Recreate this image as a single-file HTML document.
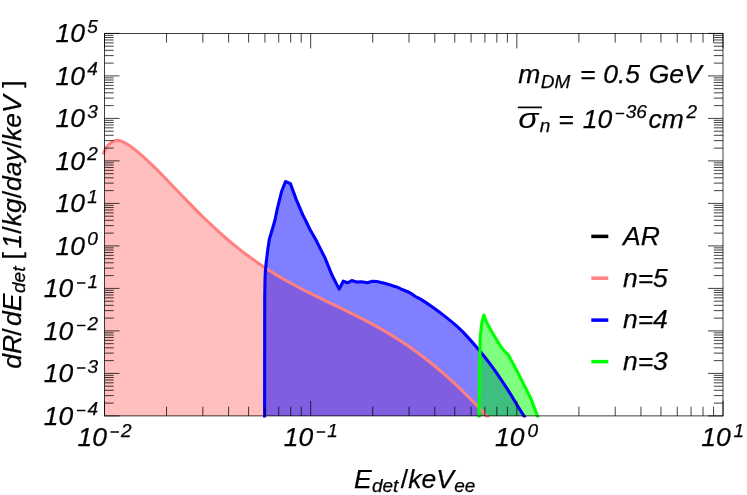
<!DOCTYPE html>
<html><head><meta charset="utf-8"><title>chart</title>
<style>html,body{margin:0;padding:0;background:#fff}svg{display:block}</style></head>
<body>
<svg width="747" height="495" viewBox="0 0 747 495">
<rect width="747" height="495" fill="#fff"/>
<defs><clipPath id="c"><rect x="101.0" y="33.4" width="622.0" height="384.1"/></clipPath></defs>
<defs><clipPath id="f"><rect x="104.5" y="33.4" width="618.5" height="382.5"/></clipPath></defs>
<g clip-path="url(#f)">
<path d="M103.2,154.3 L104.5,151.2 C105.1,149.9 105.8,148.2 106.9,146.8 C108.0,145.4 109.3,143.9 110.9,142.8 C112.5,141.7 114.8,140.7 116.6,140.4 C118.3,140.1 119.2,140.3 121.4,141.2 C123.6,142.1 126.6,143.6 130.0,146.0 C133.4,148.4 138.0,152.1 142.0,155.6 C146.0,159.1 150.0,163.0 154.0,166.9 C158.0,170.8 162.0,174.9 166.0,179.0 C170.0,183.1 174.0,187.3 178.0,191.5 C182.0,195.7 186.0,199.8 190.0,203.9 C194.0,208.0 198.0,212.1 202.0,216.0 C206.0,219.9 210.0,223.7 214.0,227.4 C218.0,231.1 222.0,234.8 226.0,238.2 C230.0,241.6 234.0,244.9 238.0,248.1 C242.0,251.3 246.0,254.4 250.0,257.3 C254.0,260.2 258.0,263.0 262.0,265.7 C266.0,268.4 270.0,270.9 274.0,273.4 C278.0,275.9 282.0,278.2 286.0,280.5 C290.0,282.8 294.0,284.9 298.0,287.0 C302.0,289.1 306.0,291.2 310.0,293.2 C314.0,295.2 318.0,297.2 322.0,299.1 C326.0,301.1 330.0,303.0 334.0,304.9 C338.0,306.8 342.0,308.7 346.0,310.7 C350.0,312.7 354.0,314.7 358.0,316.7 C362.0,318.7 366.0,320.8 370.0,322.9 C374.0,325.0 378.0,327.3 382.0,329.6 C386.0,331.9 390.0,334.2 394.0,336.7 C398.0,339.2 402.0,341.8 406.0,344.5 C410.0,347.2 414.0,350.1 418.0,353.0 C422.0,355.9 426.0,359.0 430.0,362.2 C434.0,365.4 438.0,368.7 442.0,372.1 C446.0,375.6 450.0,379.2 454.0,382.9 C458.0,386.6 462.0,390.5 466.0,394.5 C470.0,398.5 474.6,403.2 478.0,406.8 L486.6,415.9 L486.6,415.9 L103.2,415.9 Z" fill="#ff0000" fill-opacity="0.25" stroke="none"/>
<path d="M264.6,415.9 L264.7,300.0 L265.0,280.0 L265.3,272.2 L266.2,262.5 L267.7,250.3 L269.3,239.4 L273.0,227.0 L275.0,220.0 L277.3,208.8 L281.5,191.8 L285.5,181.5 L290.4,183.6 L296.1,199.1 L302.8,214.9 L305.4,220.0 L310.0,229.5 L315.7,239.4 L325.4,258.8 L332.3,275.8 L339.2,289.1 L343.2,281.2 L347.5,282.8 L351.7,280.6 L356.6,282.1 L361.4,281.8 L367.5,282.8 L372.3,281.2 L377.2,281.5 C378.4,281.8 382.3,282.7 384.5,283.3 C386.7,283.9 388.5,284.5 390.5,285.1 C392.5,285.7 394.6,286.1 396.6,286.9 C398.6,287.7 400.5,288.7 402.7,289.7 C404.9,290.7 407.9,291.7 410.0,292.8 C412.1,293.9 413.2,295.1 415.0,296.2 C416.8,297.3 418.0,297.5 421.0,299.4 C424.0,301.3 429.1,304.6 433.1,307.5 C437.2,310.4 441.2,313.4 445.3,316.6 C449.4,319.8 453.6,323.2 457.4,326.7 C461.2,330.2 464.0,333.0 468.2,337.6 C472.4,342.2 478.3,349.1 482.7,354.5 C487.1,359.9 490.8,364.7 494.8,370.3 C498.8,375.9 503.3,382.8 506.9,388.4 C510.5,394.0 513.8,399.6 516.6,404.2 L523.9,415.9 L523.9,415.9 L264.6,415.9 Z" fill="#0000ff" fill-opacity="0.5" stroke="none"/>
<path d="M479.0,415.9 L479.5,372.7 L480.3,336.3 L482.0,321.8 L483.9,315.0 L486.3,321.8 L492.4,332.7 L499.7,344.8 L504.5,351.4 L508.1,354.5 L516.6,370.3 L523.9,384.8 L531.2,399.3 L537.4,415.9 L537.4,415.9 L479.0,415.9 Z" fill="#00ff00" fill-opacity="0.5" stroke="none"/>
</g>
<g clip-path="url(#c)" stroke-linejoin="round" stroke-linecap="butt">
<path d="M103.2,154.3 L104.5,151.2 C105.1,149.9 105.8,148.2 106.9,146.8 C108.0,145.4 109.3,143.9 110.9,142.8 C112.5,141.7 114.8,140.7 116.6,140.4 C118.3,140.1 119.2,140.3 121.4,141.2 C123.6,142.1 126.6,143.6 130.0,146.0 C133.4,148.4 138.0,152.1 142.0,155.6 C146.0,159.1 150.0,163.0 154.0,166.9 C158.0,170.8 162.0,174.9 166.0,179.0 C170.0,183.1 174.0,187.3 178.0,191.5 C182.0,195.7 186.0,199.8 190.0,203.9 C194.0,208.0 198.0,212.1 202.0,216.0 C206.0,219.9 210.0,223.7 214.0,227.4 C218.0,231.1 222.0,234.8 226.0,238.2 C230.0,241.6 234.0,244.9 238.0,248.1 C242.0,251.3 246.0,254.4 250.0,257.3 C254.0,260.2 258.0,263.0 262.0,265.7 C266.0,268.4 270.0,270.9 274.0,273.4 C278.0,275.9 282.0,278.2 286.0,280.5 C290.0,282.8 294.0,284.9 298.0,287.0 C302.0,289.1 306.0,291.2 310.0,293.2 C314.0,295.2 318.0,297.2 322.0,299.1 C326.0,301.1 330.0,303.0 334.0,304.9 C338.0,306.8 342.0,308.7 346.0,310.7 C350.0,312.7 354.0,314.7 358.0,316.7 C362.0,318.7 366.0,320.8 370.0,322.9 C374.0,325.0 378.0,327.3 382.0,329.6 C386.0,331.9 390.0,334.2 394.0,336.7 C398.0,339.2 402.0,341.8 406.0,344.5 C410.0,347.2 414.0,350.1 418.0,353.0 C422.0,355.9 426.0,359.0 430.0,362.2 C434.0,365.4 438.0,368.7 442.0,372.1 C446.0,375.6 450.0,379.2 454.0,382.9 C458.0,386.6 462.0,390.5 466.0,394.5 C470.0,398.5 474.6,403.2 478.0,406.8 C481.4,410.4 485.2,414.4 486.6,415.9 L488.5,417.9" fill="none" stroke="#ff8080" stroke-width="3.1"/>
<path d="M264.6,417.9 L264.6,415.9 L264.7,300.0 L265.0,280.0 L265.3,272.2 L266.2,262.5 L267.7,250.3 L269.3,239.4 L273.0,227.0 L275.0,220.0 L277.3,208.8 L281.5,191.8 L285.5,181.5 L290.4,183.6 L296.1,199.1 L302.8,214.9 L305.4,220.0 L310.0,229.5 L315.7,239.4 L325.4,258.8 L332.3,275.8 L339.2,289.1 L343.2,281.2 L347.5,282.8 L351.7,280.6 L356.6,282.1 L361.4,281.8 L367.5,282.8 L372.3,281.2 L377.2,281.5 C378.4,281.8 382.3,282.7 384.5,283.3 C386.7,283.9 388.5,284.5 390.5,285.1 C392.5,285.7 394.6,286.1 396.6,286.9 C398.6,287.7 400.5,288.7 402.7,289.7 C404.9,290.7 407.9,291.7 410.0,292.8 C412.1,293.9 413.2,295.1 415.0,296.2 C416.8,297.3 418.0,297.5 421.0,299.4 C424.0,301.3 429.1,304.6 433.1,307.5 C437.2,310.4 441.2,313.4 445.3,316.6 C449.4,319.8 453.6,323.2 457.4,326.7 C461.2,330.2 464.0,333.0 468.2,337.6 C472.4,342.2 478.3,349.1 482.7,354.5 C487.1,359.9 490.8,364.7 494.8,370.3 C498.8,375.9 503.3,382.8 506.9,388.4 C510.5,394.0 513.8,399.6 516.6,404.2 C519.4,408.8 522.7,413.9 523.9,415.9 L525.1,417.9" fill="none" stroke="#0000ff" stroke-width="3.1"/>
<path d="M479.0,417.9 L479.0,415.9 L479.5,372.7 L480.3,336.3 L482.0,321.8 L483.9,315.0 L486.3,321.8 L492.4,332.7 L499.7,344.8 L504.5,351.4 L508.1,354.5 L516.6,370.3 L523.9,384.8 L531.2,399.3 L537.4,415.9 L538.1,417.9" fill="none" stroke="#00ff00" stroke-width="3.1"/>
</g>
<path d="M104.50,415.90 v-15.00 M104.50,33.40 v15.00 M166.56,415.90 v-9.20 M166.56,33.40 v9.20 M202.87,415.90 v-9.20 M202.87,33.40 v9.20 M228.62,415.90 v-9.20 M228.62,33.40 v9.20 M248.60,415.90 v-9.20 M248.60,33.40 v9.20 M264.93,415.90 v-9.20 M264.93,33.40 v9.20 M278.73,415.90 v-9.20 M278.73,33.40 v9.20 M290.69,415.90 v-9.20 M290.69,33.40 v9.20 M301.23,415.90 v-9.20 M301.23,33.40 v9.20 M310.67,415.90 v-15.00 M310.67,33.40 v15.00 M372.73,415.90 v-9.20 M372.73,33.40 v9.20 M409.03,415.90 v-9.20 M409.03,33.40 v9.20 M434.79,415.90 v-9.20 M434.79,33.40 v9.20 M454.77,415.90 v-9.20 M454.77,33.40 v9.20 M471.10,415.90 v-9.20 M471.10,33.40 v9.20 M484.90,415.90 v-9.20 M484.90,33.40 v9.20 M496.85,415.90 v-9.20 M496.85,33.40 v9.20 M507.40,415.90 v-9.20 M507.40,33.40 v9.20 M516.83,415.90 v-15.00 M516.83,33.40 v15.00 M578.90,415.90 v-9.20 M578.90,33.40 v9.20 M615.20,415.90 v-9.20 M615.20,33.40 v9.20 M640.96,415.90 v-9.20 M640.96,33.40 v9.20 M660.94,415.90 v-9.20 M660.94,33.40 v9.20 M677.26,415.90 v-9.20 M677.26,33.40 v9.20 M691.06,415.90 v-9.20 M691.06,33.40 v9.20 M703.02,415.90 v-9.20 M703.02,33.40 v9.20 M713.57,415.90 v-9.20 M713.57,33.40 v9.20 M723.00,415.90 v-15.00 M723.00,33.40 v15.00" stroke="#000" stroke-width="0.75" fill="none"/>
<path d="M104.50,415.90 h15.00 M723.00,415.90 h-15.00 M104.50,373.40 h15.00 M723.00,373.40 h-15.00 M104.50,330.90 h15.00 M723.00,330.90 h-15.00 M104.50,288.40 h15.00 M723.00,288.40 h-15.00 M104.50,245.90 h15.00 M723.00,245.90 h-15.00 M104.50,203.40 h15.00 M723.00,203.40 h-15.00 M104.50,160.90 h15.00 M723.00,160.90 h-15.00 M104.50,118.40 h15.00 M723.00,118.40 h-15.00 M104.50,75.90 h15.00 M723.00,75.90 h-15.00 M104.50,33.40 h15.00 M723.00,33.40 h-15.00" stroke="#000" stroke-width="0.75" fill="none"/>
<path d="M104.50,403.11 h9.20 M723.00,403.11 h-9.20 M104.50,395.62 h9.20 M723.00,395.62 h-9.20 M104.50,390.31 h9.20 M723.00,390.31 h-9.20 M104.50,386.19 h9.20 M723.00,386.19 h-9.20 M104.50,382.83 h9.20 M723.00,382.83 h-9.20 M104.50,379.98 h9.20 M723.00,379.98 h-9.20 M104.50,377.52 h9.20 M723.00,377.52 h-9.20 M104.50,375.34 h9.20 M723.00,375.34 h-9.20 M104.50,360.61 h9.20 M723.00,360.61 h-9.20 M104.50,353.12 h9.20 M723.00,353.12 h-9.20 M104.50,347.81 h9.20 M723.00,347.81 h-9.20 M104.50,343.69 h9.20 M723.00,343.69 h-9.20 M104.50,340.33 h9.20 M723.00,340.33 h-9.20 M104.50,337.48 h9.20 M723.00,337.48 h-9.20 M104.50,335.02 h9.20 M723.00,335.02 h-9.20 M104.50,332.84 h9.20 M723.00,332.84 h-9.20 M104.50,318.11 h9.20 M723.00,318.11 h-9.20 M104.50,310.62 h9.20 M723.00,310.62 h-9.20 M104.50,305.31 h9.20 M723.00,305.31 h-9.20 M104.50,301.19 h9.20 M723.00,301.19 h-9.20 M104.50,297.83 h9.20 M723.00,297.83 h-9.20 M104.50,294.98 h9.20 M723.00,294.98 h-9.20 M104.50,292.52 h9.20 M723.00,292.52 h-9.20 M104.50,290.34 h9.20 M723.00,290.34 h-9.20 M104.50,275.61 h9.20 M723.00,275.61 h-9.20 M104.50,268.12 h9.20 M723.00,268.12 h-9.20 M104.50,262.81 h9.20 M723.00,262.81 h-9.20 M104.50,258.69 h9.20 M723.00,258.69 h-9.20 M104.50,255.33 h9.20 M723.00,255.33 h-9.20 M104.50,252.48 h9.20 M723.00,252.48 h-9.20 M104.50,250.02 h9.20 M723.00,250.02 h-9.20 M104.50,247.84 h9.20 M723.00,247.84 h-9.20 M104.50,233.11 h9.20 M723.00,233.11 h-9.20 M104.50,225.62 h9.20 M723.00,225.62 h-9.20 M104.50,220.31 h9.20 M723.00,220.31 h-9.20 M104.50,216.19 h9.20 M723.00,216.19 h-9.20 M104.50,212.83 h9.20 M723.00,212.83 h-9.20 M104.50,209.98 h9.20 M723.00,209.98 h-9.20 M104.50,207.52 h9.20 M723.00,207.52 h-9.20 M104.50,205.34 h9.20 M723.00,205.34 h-9.20 M104.50,190.61 h9.20 M723.00,190.61 h-9.20 M104.50,183.12 h9.20 M723.00,183.12 h-9.20 M104.50,177.81 h9.20 M723.00,177.81 h-9.20 M104.50,173.69 h9.20 M723.00,173.69 h-9.20 M104.50,170.33 h9.20 M723.00,170.33 h-9.20 M104.50,167.48 h9.20 M723.00,167.48 h-9.20 M104.50,165.02 h9.20 M723.00,165.02 h-9.20 M104.50,162.84 h9.20 M723.00,162.84 h-9.20 M104.50,148.11 h9.20 M723.00,148.11 h-9.20 M104.50,140.62 h9.20 M723.00,140.62 h-9.20 M104.50,135.31 h9.20 M723.00,135.31 h-9.20 M104.50,131.19 h9.20 M723.00,131.19 h-9.20 M104.50,127.83 h9.20 M723.00,127.83 h-9.20 M104.50,124.98 h9.20 M723.00,124.98 h-9.20 M104.50,122.52 h9.20 M723.00,122.52 h-9.20 M104.50,120.34 h9.20 M723.00,120.34 h-9.20 M104.50,105.61 h9.20 M723.00,105.61 h-9.20 M104.50,98.12 h9.20 M723.00,98.12 h-9.20 M104.50,92.81 h9.20 M723.00,92.81 h-9.20 M104.50,88.69 h9.20 M723.00,88.69 h-9.20 M104.50,85.33 h9.20 M723.00,85.33 h-9.20 M104.50,82.48 h9.20 M723.00,82.48 h-9.20 M104.50,80.02 h9.20 M723.00,80.02 h-9.20 M104.50,77.84 h9.20 M723.00,77.84 h-9.20 M104.50,63.11 h9.20 M723.00,63.11 h-9.20 M104.50,55.62 h9.20 M723.00,55.62 h-9.20 M104.50,50.31 h9.20 M723.00,50.31 h-9.20 M104.50,46.19 h9.20 M723.00,46.19 h-9.20 M104.50,42.83 h9.20 M723.00,42.83 h-9.20 M104.50,39.98 h9.20 M723.00,39.98 h-9.20 M104.50,37.52 h9.20 M723.00,37.52 h-9.20 M104.50,35.34 h9.20 M723.00,35.34 h-9.20" stroke="#000" stroke-width="0.75" fill="none"/>
<rect x="104.50" y="33.40" width="618.50" height="382.50" fill="none" stroke="#000" stroke-width="0.75"/>
<g font-family="'Liberation Sans', sans-serif" font-style="italic" fill="#000" stroke="#000" stroke-width="0.25" opacity="0.999">
<text x="87.5" y="415.0" font-size="19" >4</text>
<text x="43.7" y="424.9" font-size="26.5" >10</text>
<text x="87.5" y="372.5" font-size="19" >3</text>
<text x="43.7" y="382.4" font-size="26.5" >10</text>
<text x="87.5" y="330.0" font-size="19" >2</text>
<text x="43.7" y="339.9" font-size="26.5" >10</text>
<text x="87.5" y="287.5" font-size="19" >1</text>
<text x="43.7" y="297.4" font-size="26.5" >10</text>
<text x="87.2" y="245.0" font-size="19" >0</text>
<text x="55.6" y="254.9" font-size="26.5" >10</text>
<text x="87.2" y="202.5" font-size="19" >1</text>
<text x="55.6" y="212.4" font-size="26.5" >10</text>
<text x="87.2" y="160.0" font-size="19" >2</text>
<text x="55.6" y="169.9" font-size="26.5" >10</text>
<text x="87.2" y="117.5" font-size="19" >3</text>
<text x="55.6" y="127.4" font-size="26.5" >10</text>
<text x="87.2" y="75.0" font-size="19" >4</text>
<text x="55.6" y="84.9" font-size="26.5" >10</text>
<text x="87.2" y="32.5" font-size="19" >5</text>
<text x="55.6" y="42.4" font-size="26.5" >10</text>
<text x="77.5" y="446.4" font-size="26.5" >10</text>
<text x="121.1" y="436.5" font-size="19" >2</text>
<text x="283.7" y="446.4" font-size="26.5" >10</text>
<text x="327.3" y="436.5" font-size="19" >1</text>
<text x="495.0" y="446.4" font-size="26.5" >10</text>
<text x="527.4" y="436.5" font-size="19" >0</text>
<text x="701.2" y="446.4" font-size="26.5" >10</text>
<text x="733.6" y="436.5" font-size="19" >1</text>
<text x="354.1" y="487.8" font-size="26.5" >E</text>
<text x="371.9" y="491.7" font-size="19" >det</text>
<text x="400.8" y="487.8" font-size="26.5" font-style="normal">/</text>
<text x="408.2" y="487.8" font-size="26.5" >keV</text>
<text x="454.2" y="491.7" font-size="19" >ee</text>
<text x="518.2" y="83.0" font-size="26.5" >m</text>
<text x="540.7" y="87.5" font-size="19" >DM</text>
<text x="580.1" y="83.0" font-size="26.5" >=</text>
<text x="603.2" y="83.0" font-size="26.5" >0.5</text>
<text x="648.7" y="83.0" font-size="26.5" >GeV</text>
<text x="539.7" y="131.7" font-size="19" >n</text>
<text x="558.2" y="127.6" font-size="26.5" >=</text>
<text x="582.7" y="127.6" font-size="26.5" >10</text>
<text x="625.7" y="118.0" font-size="19" >36</text>
<text x="648.6" y="127.6" font-size="26.5" >cm</text>
<text x="686.5" y="117.8" font-size="19" >2</text>
<text x="623.0" y="245.3" font-size="26.5" >AR</text>
<text x="622.9" y="287.0" font-size="26.5" >n=5</text>
<text x="622.9" y="327.8" font-size="26.5" >n=4</text>
<text x="622.9" y="369.8" font-size="26.5" >n=3</text>
<path d="M77.0,410.5 h8.5 M77.0,368.0 h8.5 M77.0,325.5 h8.5 M77.0,283.0 h8.5 M110.5,432.0 h8.5 M316.7,432.0 h8.5 M615.7,113.5 h8.5" stroke="#000" stroke-width="1.7" fill="none"/>
<text transform="translate(518.3,127.6) scale(1.26,1.06)" font-size="26.5" stroke="none">σ</text>
<g transform="translate(21,0) rotate(-90)">
<text x="-368.8" y="0" font-size="26.5">dR</text>
<text x="-335.8" y="0" font-size="26.5" font-style="normal">/</text>
<text x="-326.1" y="0" font-size="26.5">dE</text>
<text x="-293.0" y="4.1" font-size="19">det</text>
<text x="-259.4" y="0" font-size="26.5" font-style="normal">[</text>
<text x="-248.5" y="0" font-size="26.5">1<tspan font-style="normal">/</tspan>kg<tspan font-style="normal">/</tspan>day<tspan font-style="normal">/</tspan>keV</text>
<text x="-87.8" y="0" font-size="26.5" font-style="normal">]</text>
</g>
</g>
<path d="M517.8,107.4 H541.9" stroke="#000" stroke-width="1.7"/>
<path d="M591.3,236.40 H608.3" stroke="#000" stroke-width="3.5"/>
<path d="M591.3,278.20 H608.3" stroke="#ff8080" stroke-width="3.5"/>
<path d="M591.3,320.10 H608.3" stroke="#0000ff" stroke-width="3.5"/>
<path d="M591.3,361.65 H608.3" stroke="#00ff00" stroke-width="3.5"/>
</svg>
</body></html>
